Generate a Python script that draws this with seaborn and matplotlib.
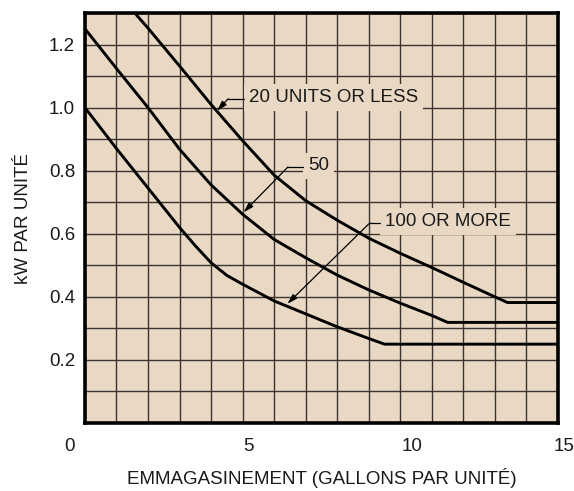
import numpy as np
import pandas as pd
import matplotlib
matplotlib.use("Agg")
import matplotlib.pyplot as plt
import seaborn as sns
from matplotlib.transforms import ScaledTranslation

# ---- data ----
x_20 = [1.58, 2.0, 3.0, 4.0, 5.0, 6.0, 7.0, 8.0, 9.0, 10.0, 11.0, 12.0, 13.0, 13.4, 15.0]
y_20 = [1.30, 1.252, 1.132, 1.010, 0.895, 0.786, 0.705, 0.643, 0.586, 0.538, 0.493, 0.446, 0.400, 0.382, 0.382]

x_50 = [0.0, 1.0, 2.0, 3.0, 4.0, 5.0, 6.0, 7.0, 8.0, 9.0, 10.0, 11.0, 11.5, 15.0]
y_50 = [1.25, 1.124, 1.00, 0.868, 0.755, 0.662, 0.582, 0.524, 0.469, 0.422, 0.380, 0.341, 0.319, 0.319]

x_100 = [0.0, 1.0, 2.0, 3.0, 3.5, 4.0, 4.5, 5.0, 6.0, 7.0, 8.0, 9.0, 9.5, 15.0]
y_100 = [1.00, 0.870, 0.745, 0.620, 0.562, 0.508, 0.468, 0.440, 0.387, 0.346, 0.305, 0.268, 0.250, 0.250]

series_names = ["20 UNITS OR LESS", "50", "100 OR MORE"]
x_ticks = [0, 5, 10, 15]
x_tick_labels = ["0", "5", "10", "15"]
y_ticks = [0.2, 0.4, 0.6, 0.8, 1.0, 1.2]
y_tick_labels = ["0.2", "0.4", "0.6", "0.8", "1.0", "1.2"]

# annotation anchors: text position, elbow x of the leader, arrow tip
label_text_pos = [(5.2, 1.031), (7.07, 0.815), (9.51, 0.638)]
label_elbow_x = [4.54, 6.44, 9.04]
label_tip = [(4.19, 0.99), (5.03, 0.668), (6.42, 0.378)]

df = pd.concat([
    pd.DataFrame({"x": x_20, "y": y_20, "s": series_names[0]}),
    pd.DataFrame({"x": x_50, "y": y_50, "s": series_names[1]}),
    pd.DataFrame({"x": x_100, "y": y_100, "s": series_names[2]}),
], ignore_index=True)

BG = "#E9D9C4"
FONT = ["Liberation Sans", "DejaVu Sans"]
FS = 13.5

sns.set_style("white")
plt.rcParams["font.family"] = FONT

fig = plt.figure(figsize=(5.74, 4.91), dpi=100)
ax = fig.add_axes([0.148, 0.1385, 0.824, 0.835])
ax.set_facecolor(BG)

sns.lineplot(data=df, x="x", y="y", hue="s", palette=["black"] * 3,
             sort=False, estimator=None, legend=False, linewidth=2.1, ax=ax,
             zorder=4)
for ln in ax.get_lines():
    ln.set_solid_joinstyle("round")

ax.set_xlim(0, 15)
ax.set_ylim(0, 1.3)
ax.set_xticks(x_ticks)
ax.set_xticklabels(x_tick_labels)
ax.set_yticks(y_ticks)
ax.set_yticklabels(y_tick_labels)
ax.set_xticks(np.arange(0, 16, 1), minor=True)
ax.set_yticks(np.arange(0, 1.31, 0.1), minor=True)
ax.grid(True, which="both", color="#3b342e", linewidth=1.0, zorder=1)
ax.set_axisbelow(True)
ax.tick_params(which="both", length=0, labelsize=FS, labelcolor="#1a1a1a")
ax.tick_params(axis="x", pad=11)
ax.tick_params(axis="y", pad=7)

for sp in ax.spines.values():
    sp.set_visible(True)
    sp.set_color("black")
    sp.set_linewidth(2.6)
    sp.set_zorder(6)

ax.set_xlabel("EMMAGASINEMENT (GALLONS PAR UNITÉ)", fontsize=FS,
              color="#1a1a1a", labelpad=9)
ax.set_ylabel("kW PAR UNITÉ", fontsize=FS, color="#1a1a1a", labelpad=12)

# small offsets of x tick labels as in the reference
offsets_px = [-15, 6, 12, 6]
for lab, dx in zip(ax.get_xticklabels(), offsets_px):
    lab.set_transform(lab.get_transform() +
                      ScaledTranslation(dx / 100, 0, fig.dpi_scale_trans))

# labels with leader lines
for name, (tx, ty), ex, (px, py) in zip(series_names, label_text_pos,
                                         label_elbow_x, label_tip):
    ax.text(tx, ty, name, fontsize=FS, color="#1a1a1a", ha="left",
            va="center", zorder=5,
            bbox=dict(facecolor=BG, edgecolor="none", pad=3.5))
    ax.plot([ex, tx - 0.15], [ty - 0.003, ty - 0.003], color="black",
            linewidth=0.9, zorder=5)
    ax.annotate("", xy=(px, py), xytext=(ex, ty - 0.003),
                arrowprops=dict(arrowstyle="-|>,head_length=0.6,head_width=0.18",
                                color="black", linewidth=0.9,
                                shrinkA=0, shrinkB=0), zorder=5)

fig.savefig("out.png", dpi=100, facecolor="white")
